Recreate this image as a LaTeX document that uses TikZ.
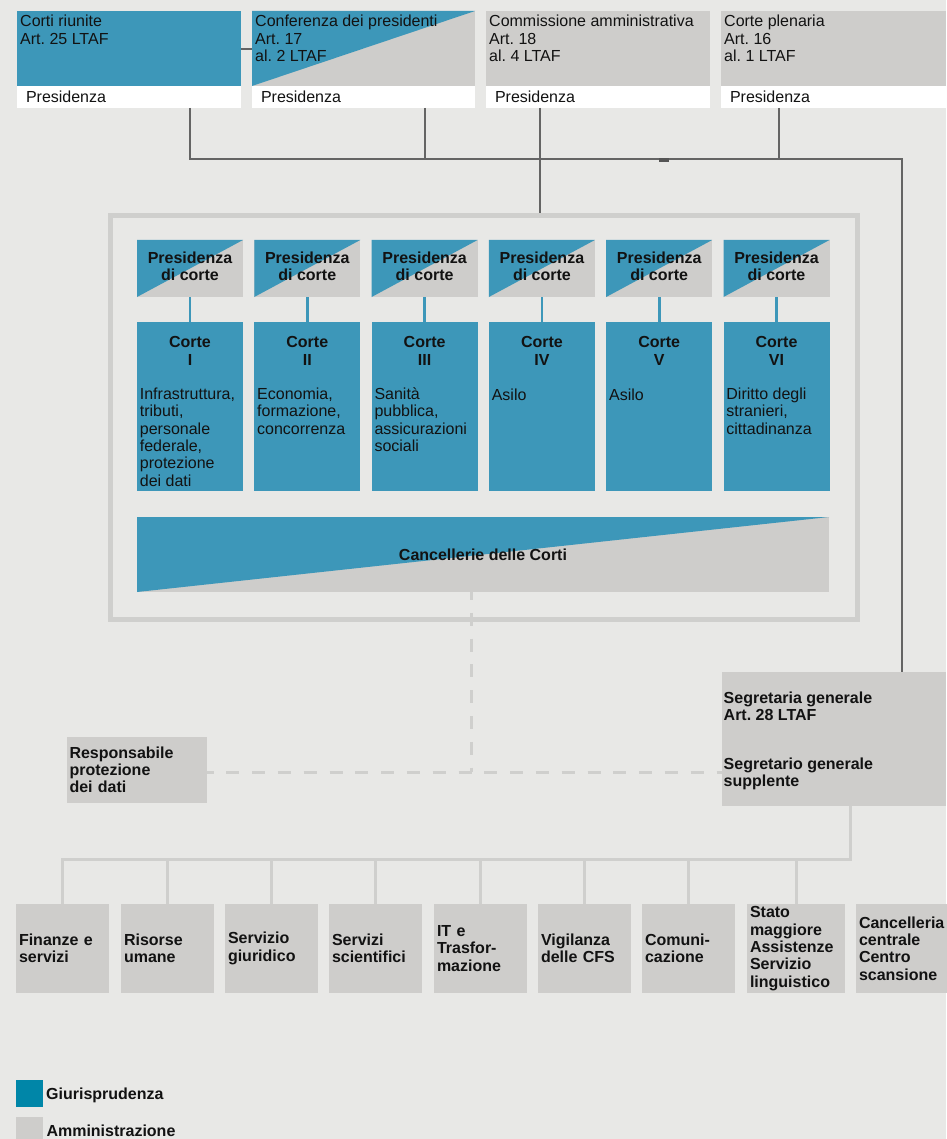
\documentclass[tikz,border=0pt]{standalone}
\usepackage{fontspec}
\setmainfont{Liberation Sans}
\frenchspacing
\definecolor{cblue}{RGB}{61,151,185}
\definecolor{lblue}{RGB}{0,134,168}
\definecolor{cgray}{RGB}{206,205,203}
\definecolor{bgc}{RGB}{232,232,230}
\definecolor{dline}{RGB}{100,100,100}
\definecolor{dmark}{RGB}{85,85,85}
\definecolor{lline}{RGB}{207,207,205}
\definecolor{txt}{RGB}{18,18,18}
\begin{document}
\frenchspacing
\begin{tikzpicture}[x=1pt,y=-1pt,
  every node/.style={font=\fontsize{16}{17.4}\selectfont, text=txt},
  bf/.style={font=\fontsize{16}{17.4}\selectfont\bfseries},
  boxbase/.style={anchor=north west, inner sep=0pt, outer sep=0pt, draw=none},
  bluebox/.style={boxbase, fill=cblue},
  graybox/.style={boxbase, fill=cgray},
  splitbox/.style={boxbase, fill=cgray, path picture={\fill[cblue] (path picture bounding box.north west) -- (path picture bounding box.north east) -- (path picture bounding box.south west) -- cycle;}},
  strip/.style={boxbase, fill=white, minimum height=22pt, inner xsep=9pt, text width=#1, align=left},
  lt/.style={anchor=north west, inner sep=0pt, align=left, execute at begin node={\rule{0pt}{13pt}}},
  ctext/.style={anchor=center, inner sep=0pt, align=center, bf},
  svc/.style={graybox, minimum height=89pt, inner xsep=3pt, text width=#1, align=left, bf},
  darkconn/.style={draw=dline, line width=2.6pt},
  lightconn/.style={draw=lline, line width=3pt},
  blueconn/.style={draw=cblue, line width=2.7pt},
  dashconn/.style={draw=lline, line width=3pt, dash pattern=on 13pt off 12.8pt},
  framebox/.style={boxbase, draw=lline, line width=5pt}
]
\useasboundingbox (0,0) rectangle (946,1139);
\fill[bgc] (0,0) rectangle (946,1139);

% ---------- top row ----------
\node[bluebox, minimum width=224pt, minimum height=75pt] (t1) at (17,11) {};
\node[strip=206pt] (s1) at (17,86) {Presidenza};
\node[lt] (tt1) at (20,15) {Corti riunite\\Art. 25 LTAF};

\node[splitbox, minimum width=223pt, minimum height=75pt] (t2) at (252,11) {};
\node[strip=205pt] (s2) at (252,86) {Presidenza};
\node[lt] (tt2) at (255,15) {Conferenza dei presidenti\\Art. 17\\al. 2 LTAF};

\node[graybox, minimum width=224pt, minimum height=75pt] (t3) at (486,11) {};
\node[strip=206pt] (s3) at (486,86) {Presidenza};
\node[lt] (tt3) at (489,15) {Commissione amministrativa\\Art. 18\\al. 4 LTAF};

\node[graybox, minimum width=225pt, minimum height=75pt] (t4) at (721,11) {};
\node[strip=207pt] (s4) at (721,86) {Presidenza};
\node[lt] (tt4) at (724,15) {Corte plenaria\\Art. 16\\al. 1 LTAF};

% ---------- frame ----------
\node[framebox, minimum width=747pt, minimum height=404pt] (frame) at (110,215.5) {};

% ---------- courts ----------
\node[splitbox, minimum width=106pt, minimum height=57pt] (p1) at (137,240) {};
\node[splitbox, minimum width=106pt, minimum height=57pt] (p2) at (254.3,240) {};
\node[splitbox, minimum width=106pt, minimum height=57pt] (p3) at (371.6,240) {};
\node[splitbox, minimum width=106pt, minimum height=57pt] (p4) at (488.9,240) {};
\node[splitbox, minimum width=106pt, minimum height=57pt] (p5) at (606.2,240) {};
\node[splitbox, minimum width=106pt, minimum height=57pt] (p6) at (723.5,240) {};
\foreach \k/\cx in {1/190,2/307.3,3/424.6,4/541.9,5/659.2,6/776.5}{
  \node[ctext] (pt\k) at (\cx,266.3) {Presidenza\\di corte};
}

\node[bluebox, minimum width=106pt, minimum height=169pt] (c1) at (137,322) {};
\node[bluebox, minimum width=106pt, minimum height=169pt] (c2) at (254.3,322) {};
\node[bluebox, minimum width=106pt, minimum height=169pt] (c3) at (371.6,322) {};
\node[bluebox, minimum width=106pt, minimum height=169pt] (c4) at (488.9,322) {};
\node[bluebox, minimum width=106pt, minimum height=169pt] (c5) at (606.2,322) {};
\node[bluebox, minimum width=106pt, minimum height=169pt] (c6) at (723.5,322) {};

\node[ctext] (ct1) at (190,351) {Corte\\I};
\node[ctext] (ct2) at (307.3,351) {Corte\\II};
\node[ctext] (ct3) at (424.6,351) {Corte\\III};
\node[ctext] (ct4) at (541.9,351) {Corte\\IV};
\node[ctext] (ct5) at (659.2,351) {Corte\\V};
\node[ctext] (ct6) at (776.5,351) {Corte\\VI};

\node[lt] (cd1) at (139.7,387.5) {Infrastruttura,\\tributi,\\personale\\federale,\\protezione\\dei dati};
\node[lt] (cd2) at (257,387.5) {Economia,\\formazione,\\concorrenza};
\node[lt] (cd3) at (374.3,387.5) {Sanità\\pubblica,\\assicurazioni\\sociali};
\node[lt] (cd4) at (491.6,387.5) {Asilo};
\node[lt] (cd5) at (608.9,387.5) {Asilo};
\node[lt] (cd6) at (726.2,387.5) {Diritto degli\\stranieri,\\cittadinanza};

\foreach \k in {1,...,6}{
  \draw[blueconn] (p\k.south) -- (c\k.north);
}

\node[splitbox, minimum width=692pt, minimum height=75pt, bf] (canc) at (137,517) {Cancellerie delle Corti};

% ---------- secretariat ----------
\node[graybox, minimum width=224pt, minimum height=134pt] (sg) at (722,672) {};
\node[lt, bf] (sgt1) at (723.5,691.5) {Segretaria generale\\Art. 28 LTAF};
\node[lt, bf] (sgt2) at (723.5,757.5) {Segretario generale\\supplente};

\node[graybox, minimum width=140pt, minimum height=66pt, inner xsep=3pt, text width=134pt, align=left, bf] (rp) at (66.5,736.7) {Responsabile\\protezione\\dei dati};

% ---------- services ----------
\node[svc=87pt] (b1) at (16,904) {Finanze e\\servizi};
\node[svc=87pt] (b2) at (121,904) {Risorse\\umane};
\node[svc=87pt] (b3) at (225,904) {Servizio\\giuridico};
\node[svc=87pt] (b4) at (329,904) {Servizi\\scientifici};
\node[svc=87pt] (b5) at (434,904) {IT e\\Trasfor-\\mazione};
\node[svc=87pt] (b6) at (538,904) {Vigilanza\\delle CFS};
\node[svc=87pt] (b7) at (642,904) {Comuni-\\cazione};
\node[svc=92pt] (b8) at (747,904) {Stato\\maggiore\\Assistenze\\Servizio\\linguistico};
\node[svc=86pt] (b9) at (856,904) {Cancelleria\\centrale\\Centro\\scansione};

% ---------- connectors: top ----------
\coordinate (a1) at (190,108);
\coordinate (a2) at (425,108);
\coordinate (a3) at (540,108);
\coordinate (a4) at (779,108);
\coordinate (j1) at (190,159);
\coordinate (j2) at (902,159);
\coordinate (hl) at (0,49);
\coordinate (ft) at (0,213);
\draw[darkconn] (t1.east |- hl) -- (t2.west |- hl);
\draw[darkconn] (a1) -- (j1) -- (j2) -- (j2 |- sg.north);
\draw[darkconn] (a2) -- (a2 |- j1);
\draw[darkconn] (a4) -- (a4 |- j1);
\draw[darkconn] (a3) -- (a3 |- ft);
\fill[dmark] (659,157.7) rectangle (669,162);

% ---------- connectors: dashed ----------
\coordinate (dj) at (471,772);
\draw[dashconn, dash phase=5pt] (canc.south -| dj) -- (dj);
\draw[dashconn, dash phase=6pt] (rp.east |- dj) -- (sg.west |- dj);

% ---------- connectors: services ----------
\coordinate (sgo) at (850,806);
\coordinate (bus) at (850,859);
\draw[lightconn] (sgo) -- (bus) -- (bus -| b1.north) -- (b1.north);
\foreach \k in {2,...,7}{
  \draw[lightconn] (bus -| b\k.north) -- (b\k.north);
}
\coordinate (b8c) at (796,904);
\draw[lightconn] (bus -| b8c) -- (b8c);

% ---------- legend ----------
\node[boxbase, fill=lblue, minimum width=27pt, minimum height=27pt] (lg1) at (16,1080) {};
\node[bf, anchor=base west, inner sep=0pt] (lgt1) at (46,1099.3) {Giurisprudenza};
\node[graybox, minimum width=27pt, minimum height=27pt] (lg2) at (16,1117) {};
\node[bf, anchor=base west, inner sep=0pt] (lgt2) at (46.3,1136.7) {Amministrazione};
\end{tikzpicture}
\end{document}
